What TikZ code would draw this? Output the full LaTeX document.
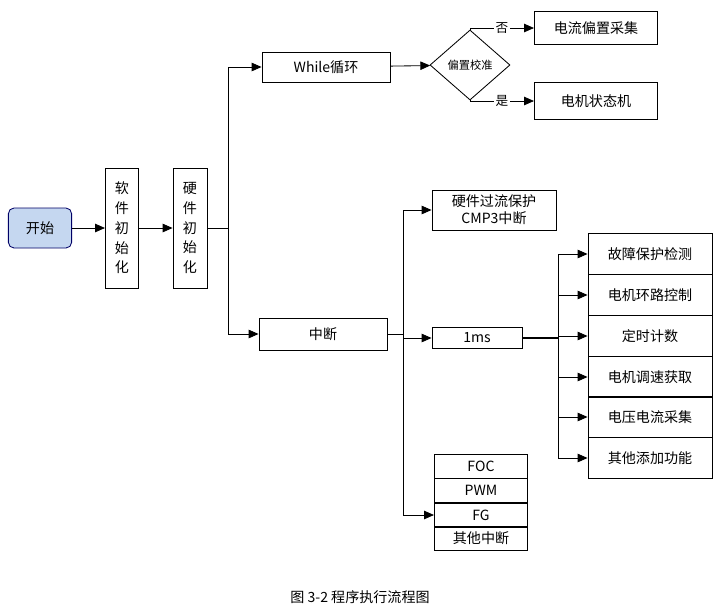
\documentclass[tikz,border=0pt]{standalone}
\usepackage{fontspec}
\setmainfont{Noto Sans CJK SC}
\usepackage{tikz}
\usetikzlibrary{shapes.geometric, arrows.meta}
\definecolor{startblue}{RGB}{197,215,240}
\tikzset{box/.style = {draw, line width = 0.6pt, inner sep = 0pt, font = \fontsize{10}{12}\selectfont, align = center},
  arr/.style = {line width = 0.6pt, -{Triangle[length = 7pt, width = 6pt]}},
  lbl/.style = {fill = white, inner sep = 1pt, font = \fontsize{9}{10}\selectfont}}

\begin{document}
\begin{tikzpicture}[x = 0.025cm, y = -0.025cm]
    \useasboundingbox (0, 0) rectangle (725, 614);
    \node [box, rounded corners = 4pt, fill = startblue, draw = blue!40!black, minimum width = 1.58cm, minimum height = 1cm] (start) at (40, 228) {开始};
    \node [box, minimum width = 0.83cm, minimum height = 3cm] (soft) at (122, 228) {软\\[2pt]件\\[2pt]初\\[2pt]始\\[2pt]化};
    \node [box, minimum width = 0.85cm, minimum height = 3cm] (hard) at (190, 228) {硬\\[2pt]件\\[2pt]初\\[2pt]始\\[2pt]化};
    \draw [arr] (start) -- (soft);
    \draw [arr] (soft) -- (hard);
    \coordinate (tr) at (228, 228);
    \draw [line width = 0.6pt] (hard) -- (tr);
    % main loop
    \node [box, minimum width = 3.2cm, minimum height = 0.75cm] (loop) at (326, 67) {While循环};
    \node [box, diamond, aspect = 1.15, minimum width = 2cm, minimum height = 1.75cm] (calib) at (470, 65) {\fontsize{8}{9}\selectfont 偏置校准};
    \node [box, minimum width = 3.08cm, minimum height = 0.83cm] (offset) at (596, 28) {电流偏置采集};
    \node [box, minimum width = 3.08cm, minimum height = 0.93cm] (fsm) at (596, 101) {电机状态机};
    \draw [arr] (tr) |- (loop);
    \draw [arr] (loop) -- (calib);
    \draw [arr] (calib.north) |- node [lbl, pos = 0.75] {否} (offset);
    \draw [arr] (calib.south) |- node [lbl, pos = 0.75] {是} (fsm);
    % interrupts
    \node [box, minimum width = 3.2cm, minimum height = 0.8cm] (isr) at (323, 334) {中断};
    \draw [arr] (tr) |- (isr);
    \coordinate (j1) at (403, 334);
    \draw [line width = 0.6pt] (isr) -- (j1);
    \node [box, minimum width = 3.1cm, minimum height = 1cm] (ocp) at (494, 210) {硬件过流保护\\CMP3中断};
    \node [box, minimum width = 2.25cm, minimum height = 0.53cm] (tick) at (477, 338) {1ms};
    \foreach \t\y\n in {FOC/466/foc, PWM/490/pwm, FG/515/fg, 其他中断/538/other}
        \node [box, minimum width = 2.33cm, minimum height = 0.6cm] (\n) at (481, \y) {\t};
    \draw [arr] (j1) |- (ocp);
    \draw [arr] (j1) |- (tick);
    \draw [arr] (j1) |- (fg.west);
    % 1ms tasks
    \coordinate (j2) at (558, 338);
    \draw [line width = 1pt] (tick) -- (j2);
    \foreach \t\y\n in {故障保护检测/254/t1, 电机环路控制/295/t2, 定时计数/336/t3, 电机调速获取/377/t4, 电压电流采集/417/t5, 其他添加功能/458/t6} {
        \node [box, minimum width = 3.1cm, minimum height = 1.02cm] (\n) at (650, \y) {\t};
        \draw [arr] (j2) |- (\n);
    }
    \node [font = \fontsize{10}{12}\selectfont] (cap) at (360, 597) {图 3-2 程序执行流程图};
\end{tikzpicture}
\end{document}
